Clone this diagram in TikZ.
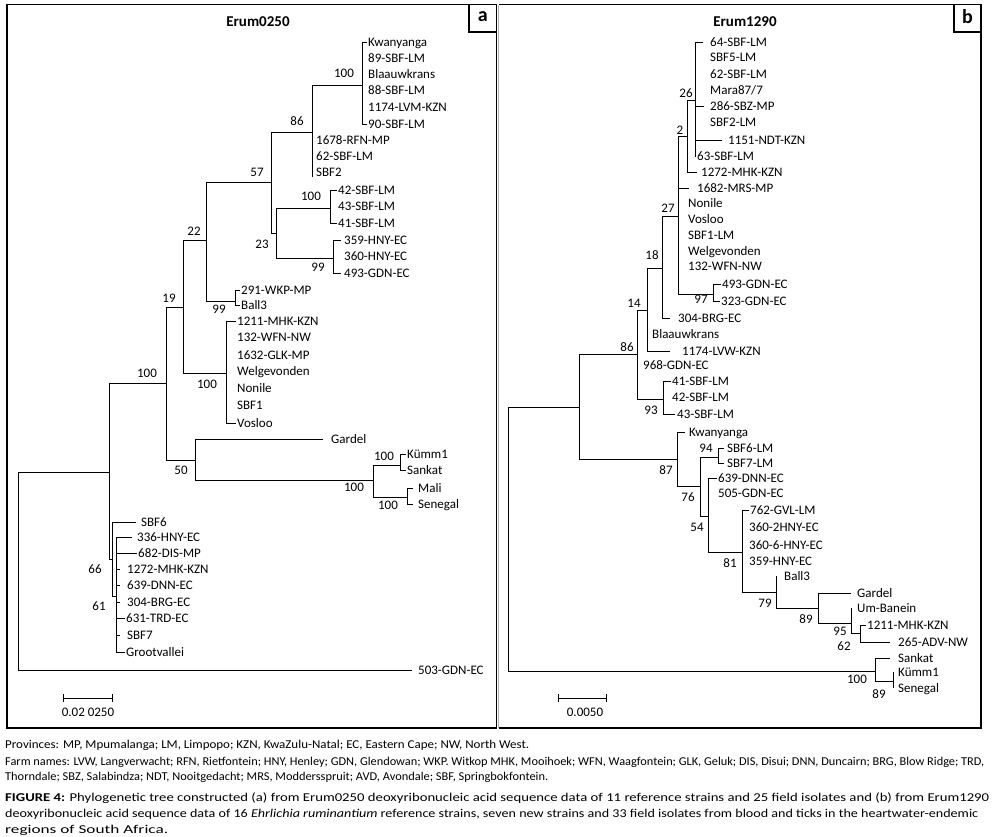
\documentclass[tikz,border=0pt]{standalone}
\usepackage{graphicx}
\usepackage{fontspec}
\setmainfont{Carlito}
\newcommand{\leaffont}{\fontsize{13}{15}\selectfont}
\newcommand{\capfont}{\fontsize{12}{14}\selectfont}
% caption line stretched to the width it has in the figure
\newcommand{\capline}[2]{\resizebox{#1}{\height}{#2}}

\begin{document}
\begin{tikzpicture}[x=1pt, y=-1pt,
    % Styles
    branch/.style={line width=0.9pt},
    leaf/.style={anchor=west, inner sep=1pt, font=\leaffont, text height=8.5pt, text depth=0pt},
    boot/.style={inner sep=0pt, font=\leaffont, text height=8.5pt, text depth=0pt},
    panel/.style={line width=1.2pt},
    tag/.style={font=\fontsize{20}{20}\selectfont\bfseries},
    title/.style={font=\fontsize{15}{15}\selectfont\bfseries},
    caption/.style={anchor=west, inner sep=0pt, font=\capfont, text height=8pt, text depth=0pt},
]

\useasboundingbox (0,0) rectangle (993,836);

% Panel frames
\draw[panel] (7,4.5) rectangle (496.5,728);
\draw[panel] (498.5,728) -- (981,728) -- (981,4.5) -- (498.5,4.5);
\draw[panel, gray!60] (498.5,4.5) -- (498.5,728);
\draw[panel] (469,4.5) rectangle (496.5,32);
\draw[panel] (954,4.5) rectangle (981,32);
\node[tag] (tagA) at (482.75,17) {a};
\node[tag] (tagB) at (967.5,17) {b};
\node[title] (titleA) at (258,22) {Erum0250};
\node[title] (titleB) at (745,22) {Erum1290};

%% ---------------- Panel a ----------------
% Leaves
\node[leaf] (laKwan) at (367,42) {Kwanyanga};
\node[leaf] (la89) at (367,58) {89-SBF-LM};
\node[leaf] (laBlaauw) at (367,74) {Blaauwkrans};
\node[leaf] (la88) at (367,90) {88-SBF-LM};
\node[leaf] (la1174) at (367,107) {1174-LVM-KZN};
\node[leaf] (la90) at (367,124) {90-SBF-LM};
\node[leaf] (la1678) at (315,140) {1678-RFN-MP};
\node[leaf] (la62) at (315,156) {62-SBF-LM};
\node[leaf] (laSBF2) at (315,172) {SBF2};
\node[leaf] (la42) at (337,190) {42-SBF-LM};
\node[leaf] (la43) at (337,206) {43-SBF-LM};
\node[leaf] (la41) at (337,223) {41-SBF-LM};
\node[leaf] (la359) at (343,240) {359-HNY-EC};
\node[leaf] (la360) at (343,256) {360-HNY-EC};
\node[leaf] (la493) at (343,273) {493-GDN-EC};
\node[leaf] (la291) at (240,290) {291-WKP-MP};
\node[leaf] (laBall3) at (240,305) {Ball3};
\node[leaf] (la1211) at (236,321) {1211-MHK-KZN};
\node[leaf] (la132) at (236,337) {132-WFN-NW};
\node[leaf] (la1632) at (236,355) {1632-GLK-MP};
\node[leaf] (laWelg) at (236,371) {Welgevonden};
\node[leaf] (laNonile) at (236,388) {Nonile};
\node[leaf] (laSBF1) at (236,405) {SBF1};
\node[leaf] (laVosloo) at (236,423) {Vosloo};
\node[leaf] (laGardel) at (330,439) {Gardel};
\node[leaf] (laKumm) at (406,454) {Kümm1};
\node[leaf] (laSankat) at (406,470) {Sankat};
\node[leaf] (laMali) at (417,488) {Mali};
\node[leaf] (laSenegal) at (417,504) {Senegal};
\node[leaf] (laSBF6) at (140,522) {SBF6};
\node[leaf] (la336) at (136,537) {336-HNY-EC};
\node[leaf] (la682) at (137,553) {682-DIS-MP};
\node[leaf] (la1272) at (126,569) {1272-MHK-KZN};
\node[leaf] (la639) at (126,585) {639-DNN-EC};
\node[leaf] (la304) at (126,602) {304-BRG-EC};
\node[leaf] (la631) at (125,618) {631-TRD-EC};
\node[leaf] (laSBF7) at (126,635) {SBF7};
\node[leaf] (laGroot) at (125,652) {Grootvallei};
\node[leaf] (la503) at (417,670) {503-GDN-EC};

% Internal nodes (x of the vertical, y of the attaching branch)
\coordinate (naRoot) at (18,472);
\coordinate (naTop) at (109,472);
\coordinate (na100) at (166,383);
\coordinate (na19) at (183,307);
\coordinate (na22) at (206,240);
\coordinate (na57) at (271,182);
\coordinate (na86) at (312,132);
\coordinate (naKw) at (362,85);
\coordinate (na23) at (276,233);
\coordinate (na42) at (330,208);
\coordinate (na359) at (333,258);
\coordinate (na291) at (235,301);
\coordinate (naWelg) at (226,373);
\coordinate (na50) at (195,460);
\coordinate (naAfr) at (373,480);
\coordinate (naKum) at (400,465);
\coordinate (naMali) at (407,497);
\coordinate (na66) at (112,559);
\coordinate (na61) at (116,596);

% Verticals
\draw[branch] (naRoot) -- (naRoot |- la503.west);
\draw[branch] (naTop |- na100) -- (naTop |- na66);
\draw[branch] (na100 |- na19) -- (na100 |- na50);
\draw[branch] (na19 |- na22) -- (na19 |- naWelg);
\draw[branch] (na22 |- na57) -- (na22 |- na291);
\draw[branch] (na57 |- na86) -- (na57 |- na23);
\draw[branch] (na86 |- naKw) -- (na86 |- laSBF2.south west);
\draw[branch] (naKw |- laKwan.west) -- (naKw |- la90.west);
\draw[branch] (na23 |- na42) -- (na23 |- na359);
\draw[branch] (na42 |- la42.west) -- (na42 |- la41.west);
\draw[branch] (na359 |- la359.west) -- (na359 |- la493.west);
\draw[branch] (na291 |- la291.west) -- (na291 |- laBall3.west);
\draw[branch] (naWelg |- la1211.west) -- (naWelg |- laVosloo.west);
\draw[branch] (na50 |- laGardel.west) -- (na50 |- naAfr);
\draw[branch] (naAfr |- naKum) -- (naAfr |- naMali);
\draw[branch] (naKum |- laKumm.west) -- (naKum |- laSankat.west);
\draw[branch] (naMali |- laMali.west) -- (naMali |- laSenegal.west);
\draw[branch] (na66 |- laSBF6.west) -- (na66 |- na61);
\draw[branch] (na61 |- la336.west) -- (na61 |- laGroot.west);

% Horizontals
\draw[branch] (naRoot) -- (naTop);
\draw[branch] (naTop |- na100) -- (na100);
\draw[branch] (naTop |- na66) -- (na66);
\draw[branch] (na100 |- na19) -- (na19);
\draw[branch] (na100 |- na50) -- (na50);
\draw[branch] (na19 |- na22) -- (na22);
\draw[branch] (na19 |- naWelg) -- (naWelg);
\draw[branch] (na22 |- na57) -- (na57);
\draw[branch] (na22 |- na291) -- (na291);
\draw[branch] (na57 |- na86) -- (na86);
\draw[branch] (na57 |- na23) -- (na23);
\draw[branch] (na86 |- naKw) -- (naKw);
\draw[branch] (na23 |- na42) -- (na42);
\draw[branch] (na23 |- na359) -- (na359);
\draw[branch] (na50 |- naAfr) -- (naAfr);
\draw[branch] (naAfr |- naKum) -- (naKum);
\draw[branch] (naAfr |- naMali) -- (naMali);
\draw[branch] (na66 |- na61) -- (na61);

% Leaf branches (parent / leaf / gap before the text)
\foreach \p/\l/\s in {naKw/laKwan/0, naKw/la90/0, na42/la42/0, na42/la41/0,
    na359/la359/2, na359/la493/2, na291/la291/0, na291/laBall3/0,
    naWelg/la1211/0, naWelg/laVosloo/0, na50/laGardel/7, naKum/laKumm/0,
    naKum/laSankat/0, naMali/laMali/4, naMali/laSenegal/4, na66/laSBF6/4,
    na61/la336/4, na61/la682/0, na61/la1272/6, na61/la639/6, na61/la304/6,
    na61/la631/0, na61/laSBF7/6, na61/laGroot/0, naRoot/la503/5}
    \draw[branch, shorten >=\s pt] (\p |- \l.west) -- (\l.west);

% Bootstrap values
\node[boot] (saKw) at (344,73) {100};
\node[boot] (sa86) at (297,121) {86};
\node[boot] (sa57) at (257,172) {57};
\node[boot] (sa42) at (311,196) {100};
\node[boot] (sa23) at (262,244) {23};
\node[boot] (sa359) at (318,267) {99};
\node[boot] (sa22) at (194,231) {22};
\node[boot] (sa291) at (219,309) {99};
\node[boot] (sa19) at (169,298) {19};
\node[boot] (saWelg) at (207,384) {100};
\node[boot] (sa100) at (147,373) {100};
\node[boot] (saKum) at (384,456) {100};
\node[boot] (saAfr) at (354,487) {100};
\node[boot] (saMali) at (388,505) {100};
\node[boot] (sa50) at (181,470) {50};
\node[boot] (sa66) at (95,569) {66};
\node[boot] (sa61) at (99,606) {61};

% Scale bar
\coordinate (sbA1) at (63,698);
\coordinate (sbA2) at (113,698);
\draw[branch, {|-|}] (sbA1) -- (sbA2);
\node[boot] (sbAlab) at (88,712) {0.02 0250};

%% ---------------- Panel b ----------------
% Leaves
\node[leaf] (lb64) at (709,42) {64-SBF-LM};
\node[leaf] (lbSBF5) at (709,57) {SBF5-LM};
\node[leaf] (lb62) at (709,74) {62-SBF-LM};
\node[leaf] (lbMara) at (709,90) {Mara87/7};
\node[leaf] (lb286) at (709,106) {286-SBZ-MP};
\node[leaf] (lbSBF2) at (709,122) {SBF2-LM};
\node[leaf] (lb1151) at (727,140) {1151-NDT-KZN};
\node[leaf] (lb63) at (696,156) {63-SBF-LM};
\node[leaf] (lb1272) at (700,172) {1272-MHK-KZN};
\node[leaf] (lb1682) at (696,188) {1682-MRS-MP};
\node[leaf] (lbNonile) at (687,203) {Nonile};
\node[leaf] (lbVosloo) at (687,219) {Vosloo};
\node[leaf] (lbSBF1) at (687,235) {SBF1-LM};
\node[leaf] (lbWelg) at (687,251) {Welgevonden};
\node[leaf] (lb132) at (687,266) {132-WFN-NW};
\node[leaf] (lb493) at (721,284) {493-GDN-EC};
\node[leaf] (lb323) at (720,301) {323-GDN-EC};
\node[leaf] (lb304) at (677,318) {304-BRG-EC};
\node[leaf] (lbBlaauw) at (651,334) {Blaauwkrans};
\node[leaf] (lb1174) at (681,351) {1174-LVW-KZN};
\node[leaf] (lb968) at (642,365) {968-GDN-EC};
\node[leaf] (lb41) at (671,381) {41-SBF-LM};
\node[leaf] (lb42) at (671,397) {42-SBF-LM};
\node[leaf] (lb43) at (676,414) {43-SBF-LM};
\node[leaf] (lbKwan) at (688,432) {Kwanyanga};
\node[leaf] (lbSBF6) at (726,448) {SBF6-LM};
\node[leaf] (lbSBF7) at (726,463) {SBF7-LM};
\node[leaf] (lb639) at (717,478) {639-DNN-EC};
\node[leaf] (lb505) at (717,493) {505-GDN-EC};
\node[leaf] (lb762) at (749,510) {762-GVL-LM};
\node[leaf] (lb3602) at (748,527) {360-2HNY-EC};
\node[leaf] (lb3606) at (748,545) {360-6-HNY-EC};
\node[leaf] (lb359) at (748,561) {359-HNY-EC};
\node[leaf] (lbBall3) at (783,576) {Ball3};
\node[leaf] (lbGardel) at (856,593) {Gardel};
\node[leaf] (lbUm) at (856,608) {Um-Banein};
\node[leaf] (lb1211) at (866,625) {1211-MHK-KZN};
\node[leaf] (lb265) at (897,642) {265-ADV-NW};
\node[leaf] (lbSankat) at (897,658) {Sankat};
\node[leaf] (lbKumm) at (897,672) {Kümm1};
\node[leaf] (lbSenegal) at (897,688) {Senegal};

% Internal nodes
\coordinate (nbRoot) at (508,407);
\coordinate (nbA) at (579,407);
\coordinate (nb86) at (637,354);
\coordinate (nb14) at (647,310);
\coordinate (nb18) at (662,268);
\coordinate (nb27) at (678,216);
\coordinate (nb2) at (687,136);
\coordinate (nb26) at (695,100);
\coordinate (nb97) at (713,294);
\coordinate (nb93) at (663,399);
\coordinate (nb87) at (677,459);
\coordinate (nb76) at (700,486);
\coordinate (nb94) at (718,457);
\coordinate (nb54) at (708,516);
\coordinate (nb81) at (742,552);
\coordinate (nb79) at (776,592);
\coordinate (nb89) at (818,608);
\coordinate (nb95) at (851,623);
\coordinate (nb62) at (860,633);
\coordinate (nbSank) at (875,671);
\coordinate (nb89s) at (893,681);

% Verticals
\draw[branch] (nbRoot) -- (nbRoot |- nbSank);
\draw[branch] (nbA |- nb86) -- (nbA |- nb87);
\draw[branch] (nb86 |- nb14) -- (nb86 |- nb93);
\draw[branch] (nb14 |- nb18) -- (nb14 |- lb1174.west);
\draw[branch] (nb18 |- nb27) -- (nb18 |- lb304.west);
\draw[branch] (nb27 |- nb2) -- (nb27 |- nb97);
\draw[branch] (nb2 |- nb26) -- (nb2 |- lb1272.west);
\draw[branch] (nb26 |- lb64.west) -- (nb26 |- lb63.west);
\draw[branch] (nb97 |- lb493.west) -- (nb97 |- lb323.west);
\draw[branch] (nb93 |- lb41.west) -- (nb93 |- lb43.west);
\draw[branch] (nb87 |- lbKwan.west) -- (nb87 |- nb76);
\draw[branch] (nb76 |- nb94) -- (nb76 |- nb54);
\draw[branch] (nb94 |- lbSBF6.west) -- (nb94 |- lbSBF7.west);
\draw[branch] (nb54 |- lb639.west) -- (nb54 |- nb81);
\draw[branch] (nb81 |- lb762.west) -- (nb81 |- nb79);
\draw[branch] (nb79 |- lbBall3.west) -- (nb79 |- nb89);
\draw[branch] (nb89 |- lbGardel.west) -- (nb89 |- nb95);
\draw[branch] (nb95 |- lbUm.west) -- (nb95 |- nb62);
\draw[branch] (nb62 |- lb1211.west) -- (nb62 |- lb265.west);
\draw[branch] (nbSank |- lbSankat.west) -- (nbSank |- nb89s);
\draw[branch] (nb89s |- lbKumm.west) -- (nb89s |- lbSenegal.west);

% Horizontals
\draw[branch] (nbRoot) -- (nbA);
\draw[branch] (nbRoot |- nbSank) -- (nbSank);
\draw[branch] (nbA |- nb86) -- (nb86);
\draw[branch] (nbA |- nb87) -- (nb87);
\draw[branch] (nb86 |- nb14) -- (nb14);
\draw[branch] (nb86 |- nb93) -- (nb93);
\draw[branch] (nb14 |- nb18) -- (nb18);
\draw[branch] (nb18 |- nb27) -- (nb27);
\draw[branch] (nb27 |- nb2) -- (nb2);
\draw[branch] (nb27 |- nb97) -- (nb97);
\draw[branch] (nb2 |- nb26) -- (nb26);
\draw[branch] (nb87 |- nb76) -- (nb76);
\draw[branch] (nb76 |- nb94) -- (nb94);
\draw[branch] (nb76 |- nb54) -- (nb54);
\draw[branch] (nb54 |- nb81) -- (nb81);
\draw[branch] (nb81 |- nb79) -- (nb79);
\draw[branch] (nb79 |- nb89) -- (nb89);
\draw[branch] (nb89 |- nb95) -- (nb95);
\draw[branch] (nb95 |- nb62) -- (nb62);
\draw[branch] (nbSank |- nb89s) -- (nb89s);

% Leaf branches
\foreach \p/\l/\s in {nb26/lb64/6, nb26/lb286/5, nb26/lb1151/5, nb26/lb63/0,
    nb2/lb1272/3, nb27/lb1682/7, nb97/lb493/0, nb97/lb323/0, nb18/lb304/7,
    nb14/lb1174/11, nb93/lb41/0, nb93/lb43/1, nb87/lbKwan/3, nb94/lbSBF6/2,
    nb94/lbSBF7/2, nb54/lb639/0, nb81/lb762/0, nb89/lbGardel/5,
    nb62/lb1211/0, nb62/lb265/7, nbSank/lbSankat/7}
    \draw[branch, shorten >=\s pt] (\p |- \l.west) -- (\l.west);

% Bootstrap values
\node[boot] (sb26) at (686,93) {26};
\node[boot] (sb2) at (680,130) {2};
\node[boot] (sb27) at (668,208) {27};
\node[boot] (sb18) at (652,255) {18};
\node[boot] (sb14) at (634,303) {14};
\node[boot] (sb86) at (627,347) {86};
\node[boot] (sb97) at (701,299) {97};
\node[boot] (sb93) at (651,410) {93};
\node[boot] (sb94) at (706,448) {94};
\node[boot] (sb87) at (666,470) {87};
\node[boot] (sb76) at (688,497) {76};
\node[boot] (sb54) at (697,527) {54};
\node[boot] (sb81) at (730,563) {81};
\node[boot] (sb79) at (765,603) {79};
\node[boot] (sb89) at (806,619) {89};
\node[boot] (sb95) at (840,631) {95};
\node[boot] (sb62) at (844,646) {62};
\node[boot] (sbSank) at (857,679) {100};
\node[boot] (sb89s) at (879,694) {89};

% Scale bar
\coordinate (sbB1) at (558,698);
\coordinate (sbB2) at (607,698);
\draw[branch, {|-|}] (sbB1) -- (sbB2);
\node[boot] (sbBlab) at (585,712) {0.0050};

%% ---------------- Caption ----------------
\node[caption] (cap1) at (5,744) {\capline{524pt}{Provinces: MP, Mpumalanga; LM, Limpopo; KZN, KwaZulu-Natal; EC, Eastern Cape; NW, North West.}};
\node[caption] (cap2) at (5,761) {\capline{979pt}{Farm names: LVW, Langverwacht; RFN, Rietfontein; HNY, Henley; GDN, Glendowan; WKP. Witkop MHK, Mooihoek; WFN, Waagfontein; GLK, Geluk; DIS, Disui; DNN, Duncairn; BRG, Blow Ridge; TRD,}};
\node[caption] (cap3) at (5,776) {\capline{543pt}{Thorndale; SBZ, Salabindza; NDT, Nooitgedacht; MRS, Moddersspruit; AVD, Avondale; SBF, Springbokfontein.}};
\node[caption] (cap4) at (5,797) {\capline{984pt}{\textbf{FIGURE 4:} Phylogenetic tree constructed (a) from Erum0250 deoxyribonucleic acid sequence data of 11 reference strains and 25 field isolates and (b) from Erum1290}};
\node[caption] (cap5) at (5,813) {\capline{973pt}{deoxyribonucleic acid sequence data of 16 \textit{Ehrlichia ruminantium} reference strains, seven new strains and 33 field isolates from blood and ticks in the heartwater-endemic}};
\node[caption] (cap6) at (5,829) {\capline{163pt}{regions of South Africa.}};

\end{tikzpicture}
\end{document}
